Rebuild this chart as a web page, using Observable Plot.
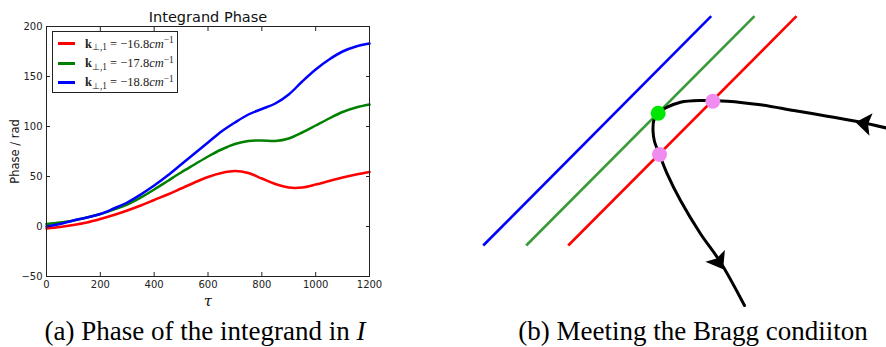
<!DOCTYPE html>
<html>
<head>
<meta charset="utf-8">
<script src="https://cdn.jsdelivr.net/npm/d3@7"></script>
<script src="https://cdn.jsdelivr.net/npm/@observablehq/plot@0.6"></script>
<style>
  html, body { margin: 0; padding: 0; background: #fff; }
  #root { position: relative; width: 886px; height: 347px; overflow: hidden; background: #fff; }
  .panel { position: absolute; top: 0; }
  .caption { position: absolute; top: 318px; font-family: "Liberation Serif", "Times New Roman", serif;
             font-size: 27px; line-height: 27px; white-space: nowrap; transform: translateX(-50%); color: #000; }
  .legend { position: absolute; left: 52px; top: 31px; width: 126px; height: 62px; box-sizing: border-box;
            border: 1px solid #222; background: #fff; }
  .legend .row { position: absolute; left: 0; width: 124px; height: 16px; }
  .legend .sw { position: absolute; left: 5px; top: 6.5px; width: 17px; height: 3px; }
  .legend .tx { position: absolute; left: 32px; top: 0; line-height: 16px; white-space: nowrap;
                font-family: "Liberation Serif", "Times New Roman", serif; font-size: 12.5px; color: #222; }
  .legend .tx b { font-weight: bold; }
  .legend .tx sub, .legend .tx sup { font-size: 75%; line-height: 0; position: relative; vertical-align: baseline; }
  .legend .tx sub { top: 0.3em; }
  .legend .tx sup { top: -0.45em; }
</style>
</head>
<body>
<div id="root">
  <div id="panelA" class="panel" style="left:0px"></div>
  <div id="legendA" class="legend"></div>
  <div id="panelB" class="panel" style="left:460px"></div>
  <div class="caption" style="left:205px">(a) Phase of the integrand in <i>I</i></div>
  <div class="caption" style="left:693px">(b) Meeting the Bragg condiiton</div>
</div>
<script>
// ---------- Panel (a) data ----------
const tau = [0, 50, 100, 150, 200, 250, 300, 350, 400, 450, 500, 550, 600,
             650, 700, 750, 800, 850, 900, 950, 1000, 1050, 1100, 1150, 1200];
const phaseK168 = [-2, -0.5, 1.5, 4, 7.5, 11.5, 16, 21, 26.5, 32, 38, 44, 49.5,
                   53.5, 55.5, 53.5, 48, 42.5, 39, 39, 42, 45.5, 49, 52, 54.5];
const phaseK178 = [2.5, 4, 6, 9, 12.5, 17, 22, 29, 37, 45.5, 54, 62, 70,
                   77, 82.5, 85.5, 86, 85.5, 88, 94, 101, 108, 114.5, 119, 122];
const phaseK188 = [0, 2.5, 6, 9, 12.5, 18, 24, 32, 41, 51, 62, 73, 84,
                   95, 104, 112, 117.5, 123, 132, 145, 157, 167, 175, 180, 183];
const kValues = ["−16.8", "−17.8", "−18.8"];
const xTicks = [0, 200, 400, 600, 800, 1000, 1200];
const yTicks = [-50, 0, 50, 100, 150, 200];
const titleA = "Integrand Phase";
const yLabelA = "Phase / rad";
const xLabelA = "τ";

// ---------- Panel (b) data (diagram units) ----------
const braggLineX1 = [2.27, 6.57, 10.77];
const braggLineY1 = [6.5, 6.5, 6.5];
const braggLineX2 = [25.07, 29.4, 33.6];
const braggLineY2 = [29.43, 29.43, 29.43];
const braggLineK = ["−18.8", "−17.8", "−16.8"];
const rayX = [42.8, 40.0, 36.67, 33.33, 30.0, 26.67, 24.0, 22.0, 20.67, 19.77, 19.33, 19.25, 19.4, 19.9, 20.67, 22.0, 24.0, 26.0, 28.4];
const rayY = [18.2, 18.83, 19.43, 20.0, 20.57, 20.93, 21.0, 20.83, 20.33, 19.73, 19.0, 18.0, 16.9, 15.6, 13.67, 11.0, 7.67, 4.83, 0.5];
const meetX = [19.77, 25.23, 19.9];
const meetY = [19.73, 20.93, 15.6];
const meetKind = ["tangent", "crossing", "crossing"];
const arrowX = [40.4, 25.8];
const arrowY = [18.7, 4.9];
const arrowAngle = [278, 149];

// ---------- Panel (a) ----------
const seriesPhase = [phaseK168, phaseK178, phaseK188];
const rowsA = [];
kValues.forEach((k, s) => tau.forEach((t, i) => rowsA.push({tau: t, phase: seriesPhase[s][i], k})));
const colorsA = ["#ff0000", "#008000", "#0000ff"];

const plotA = Plot.plot({
  width: 392, height: 310,
  marginLeft: 46, marginRight: 23, marginTop: 26, marginBottom: 34,
  style: {fontFamily: "DejaVu Sans, sans-serif", background: "transparent", color: "#222", overflow: "visible"},
  x: {domain: [0, 1200]},
  y: {domain: [-50, 200]},
  color: {domain: kValues, range: colorsA},
  marks: [
    Plot.line(rowsA, {x: "tau", y: "phase", stroke: "k", z: "k", strokeWidth: 2.5, curve: "catmull-rom"}),
    Plot.frame({stroke: "#222"}),
    Plot.axisX({anchor: "bottom", ticks: xTicks, tickSize: -4, tickPadding: 8, label: null, fontSize: 10, tickFormat: d3.format("d")}),
    Plot.axisX({anchor: "top", ticks: xTicks, tickSize: -4, fill: "none", label: null}),
    Plot.axisY({anchor: "left", ticks: yTicks, tickSize: -4, tickPadding: 8, label: null, fontSize: 10}),
    Plot.axisY({anchor: "right", ticks: yTicks, tickSize: -4, fill: "none", label: null}),
    Plot.text([titleA], {frameAnchor: "top", lineAnchor: "middle", dy: -9, fontSize: 14.5, fill: "#111"}),
    Plot.text([yLabelA], {frameAnchor: "left", textAnchor: "middle", lineAnchor: "middle", dx: -31, rotate: -90, fontSize: 11.5, fill: "#111"}),
    Plot.text([xLabelA], {frameAnchor: "bottom", lineAnchor: "middle", dy: 25, fontSize: 15, fontStyle: "italic", fontFamily: "DejaVu Serif, serif", fill: "#111"})
  ]
});
document.getElementById("panelA").appendChild(plotA);

// legend (a)
const legend = document.getElementById("legendA");
const rowTops = [3.5, 23, 42];
kValues.forEach((k, i) => {
  const row = document.createElement("div");
  row.className = "row";
  row.style.top = rowTops[i] + "px";
  row.innerHTML = `<div class="sw" style="background:${colorsA[i]}"></div>` +
    `<div class="tx"><b>k</b><sub>⊥,1</sub> = ${k}<i>cm</i><sup>−1</sup></div>`;
  legend.appendChild(row);
});

// ---------- Panel (b) ----------
const linksB = braggLineK.map((k, i) => ({k, x1: braggLineX1[i], y1: braggLineY1[i], x2: braggLineX2[i], y2: braggLineY2[i]}));
const rayB = rayX.map((x, i) => ({x, y: rayY[i]}));
const meetB = meetX.map((x, i) => ({x, y: meetY[i], kind: meetKind[i]}));
const arrowsB = arrowX.map((x, i) => ({x, y: arrowY[i], angle: arrowAngle[i]}));

const arrowHead = {
  draw(context, size) {
    const r = Math.sqrt(size / Math.PI);
    context.moveTo(0, -0.75 * r);
    context.lineTo(0.95 * r, 0.55 * r);
    context.lineTo(0, 0.3 * r);
    context.lineTo(-0.95 * r, 0.55 * r);
    context.closePath();
  }
};

const plotB = Plot.plot({
  width: 426, height: 310, margin: 0,
  style: {background: "transparent"},
  x: {domain: [0, 42.6], axis: null},
  y: {domain: [0, 31], axis: null},
  color: {domain: ["−18.8", "−17.8", "−16.8"], range: ["#0000ff", "#3a9a3a", "#ff0000"]},
  marks: [
    Plot.link(linksB, {x1: "x1", y1: "y1", x2: "x2", y2: "y2", stroke: "k", strokeWidth: 2.6}),
    Plot.line(rayB, {x: "x", y: "y", stroke: "#000", strokeWidth: 3, curve: "catmull-rom"}),
    Plot.dot(meetB.filter(d => d.kind === "crossing"), {x: "x", y: "y", r: 7.5, fill: "#f08cf0", stroke: "none"}),
    Plot.dot(meetB.filter(d => d.kind === "tangent"), {x: "x", y: "y", r: 7.5, fill: "#00e600", stroke: "none"}),
    Plot.dot(arrowsB, {x: "x", y: "y", r: 12, symbol: arrowHead, rotate: "angle", fill: "#000", stroke: "none"})
  ]
});
document.getElementById("panelB").appendChild(plotB);
</script>
</body>
</html>
